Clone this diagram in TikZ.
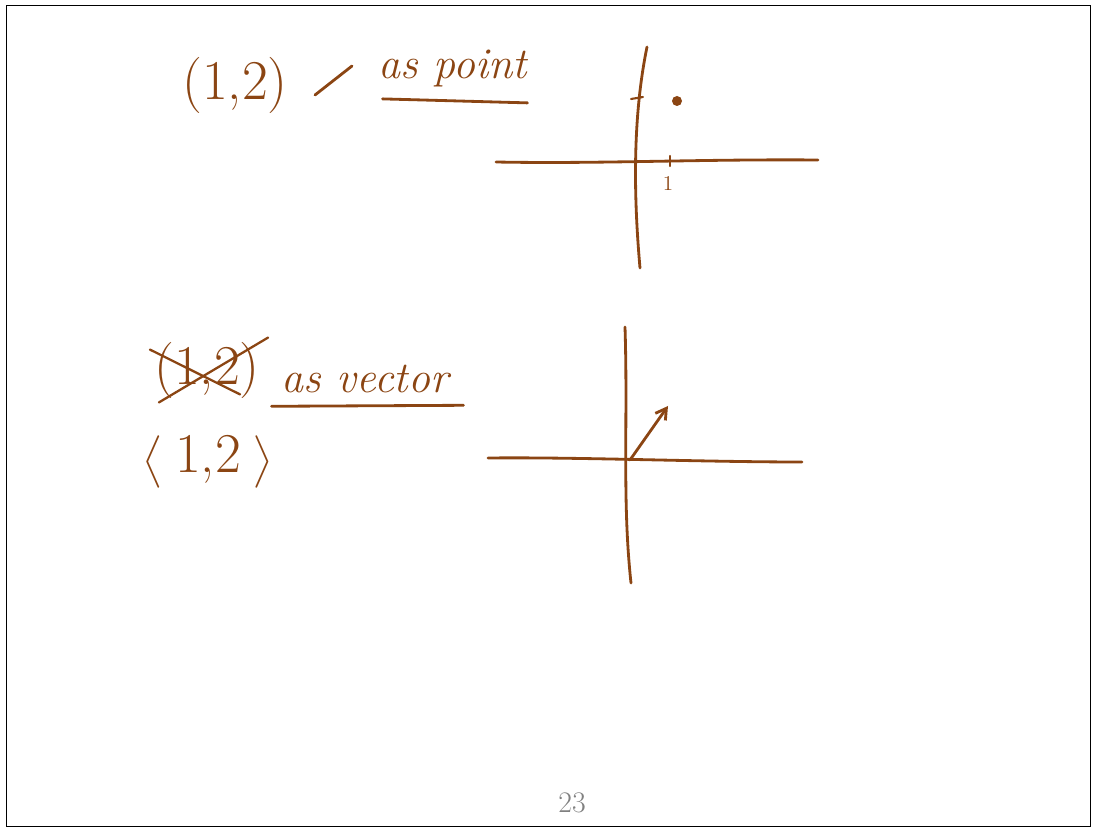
\documentclass[tikz,border=0pt]{standalone}
\usepackage{amsmath}
\usepackage{tikz}
\usetikzlibrary{calc, positioning, arrows.meta}
\definecolor{ink}{RGB}{139,69,19}

\begin{document}
\begin{tikzpicture}[
    x=0.02cm, y=-0.02cm,
    pen/.style={draw=ink, line width=1.6pt, line cap=round, line join=round},
    hand/.style={text=ink, font=\fontsize{32}{36}\selectfont, inner sep=0pt},
    word/.style={text=ink, font=\fontsize{25}{28}\selectfont\itshape, inner sep=0pt},
    small/.style={text=ink, font=\fontsize{12}{14}\selectfont, inner sep=0pt},
    tickmark/.style={pen, line width=1.2pt},
    vec/.style={pen, -{Straight Barb[length=6pt, width=7pt]}}
  ]
  \useasboundingbox (0,0) rectangle (1093,827);
  \draw[black, line width=0.5pt] (6,5) rectangle (1090,826);

  % (1,2) as a point
  \node[hand] (pt) at (235,85) {(1,2)};
  \node[word] (aspt) at (453,68) {as point};
  \coordinate (dashA) at (315,95);
  \coordinate (dashB) at (352,66);
  \draw[pen] (dashA) -- (dashB);
  \draw[pen] ($(aspt.south west)+(4,12)$) -- ($(aspt.south east)+(0,16)$);

  % first plane
  \coordinate (xl1) at (496,162);
  \coordinate (xr1) at (818,160);
  \coordinate (yt1) at (647,47);
  \coordinate (yb1) at (640,268);
  \draw[pen] (xl1) .. controls (600,164) and (700,159) .. (xr1);
  \draw[pen] (yt1) .. controls (632,120) and (634,200) .. (yb1);
  \draw[tickmark] (631,99) -- (643,97);
  \draw[tickmark] (670,156) -- (670,166);
  \node[small] (one) at (668,183) {1};
  \fill[ink] (677,101) circle (0.1cm);

  % (1,2) as a vector
  \node[hand] (old) at (207,370) {(1,2)};
  \draw[pen, line width=1.3pt] ($(old.north west)+(-4,8)$) -- ($(old.south east)+(-20,-4)$);
  \draw[pen, line width=1.3pt] ($(old.south west)+(5,4)$) -- ($(old.north east)+(8,-4)$);
  \node[word] (asvec) at (365,379) {as vector};
  \draw[pen] ($(asvec.south west)+(-10,13)$) -- ($(asvec.south east)+(15,12)$);
  \node[hand] (ang) at (208,462) {$\big\langle\;\text{1,2}\;\big\rangle$};

  % second plane
  \coordinate (xl2) at (488,458);
  \coordinate (xr2) at (802,462);
  \coordinate (yt2) at (625,327);
  \coordinate (yb2) at (631,583);
  \coordinate (o2) at (630,460);
  \coordinate (tip) at (668,406);
  \draw[pen] (xl2) .. controls (580,457) and (700,462) .. (xr2);
  \draw[pen] (yt2) .. controls (628,420) and (622,500) .. (yb2);
  \draw[vec] (o2) -- (tip);

  \node[text=gray, font=\fontsize{17}{19}\selectfont] (page) at (572,803) {23};
\end{tikzpicture}
\end{document}
